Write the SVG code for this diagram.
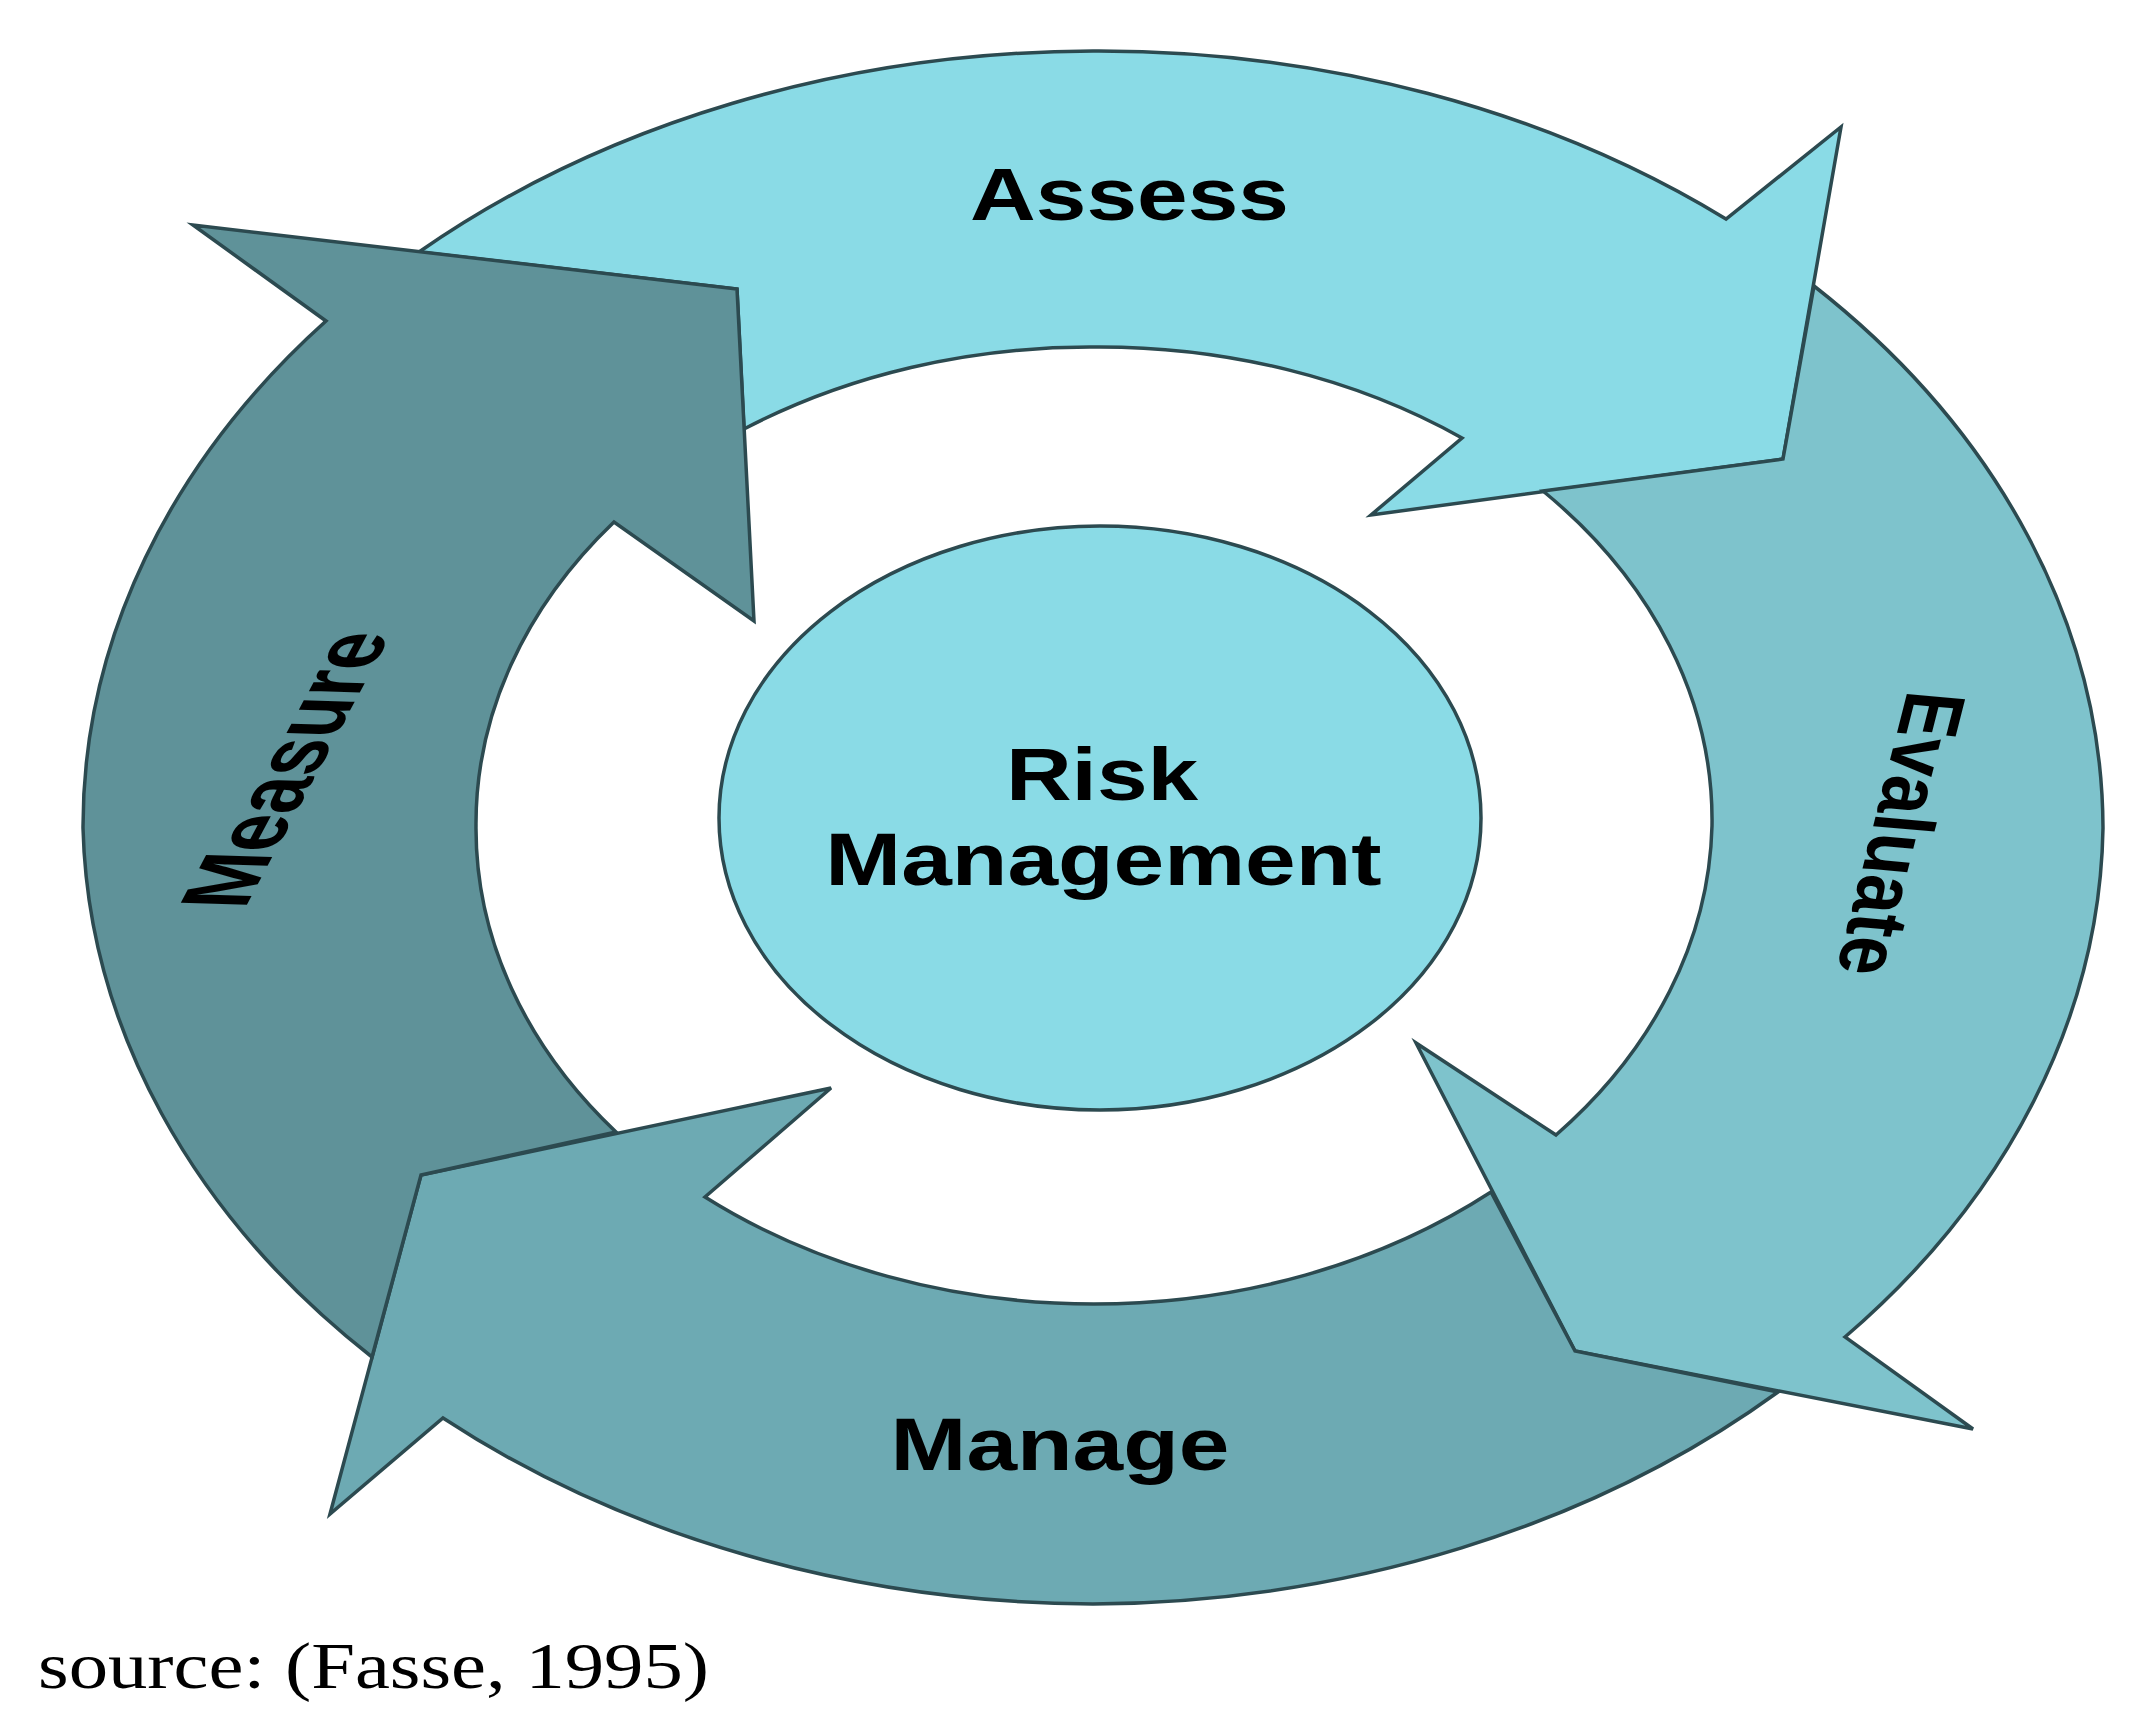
<svg xmlns="http://www.w3.org/2000/svg" width="2155" height="1730" viewBox="0 0 2155 1730">
<style>
.arr{stroke:#2c4a50;stroke-width:3.5;stroke-linejoin:miter}
.lbl{font-family:"Liberation Sans",Arial,sans-serif;font-weight:bold;font-size:74px;fill:#000;text-anchor:middle}
.src{font-family:"Liberation Serif","Times New Roman",serif;font-size:65px;fill:#000}
</style>
<rect width="2155" height="1730" fill="#ffffff"/>
<g id="assess">
<path class="arr" fill="#8adbe6" d="M 419,252 A 1010 777 0 0 1 1093,51 A 1010 777 0 0 1 1726,219 L 1841,127 L 1783,459 L 1371,515 L 1462,438 A 618 479 0 0 0 1094,347 A 618 479 0 0 0 744,429 L 737,289 Z"/>
<text class="lbl" transform="translate(1129.5,220) scale(1.23,1)">Assess</text>
</g>
<g id="evaluate">
<path class="arr" fill="#7ec3cc" d="M 1814,286 A 1010 777 0 0 1 2103,828 A 1010 777 0 0 1 1845,1337 L 1973,1429 L 1575,1351 L 1416,1043 L 1556,1135 A 618 479 0 0 0 1712,826 A 618 479 0 0 0 1543,491 L 1783,459 Z"/>
<text class="lbl" transform="matrix(-0.237,0.930,-1.145,-0.100,1872,831)">Evaluate</text>
</g>
<g id="manage">
<path class="arr" fill="#6daab3" d="M 1778,1392 A 1010 777 0 0 1 1093,1604 A 1010 777 0 0 1 443,1418 L 330,1514 L 421,1175 L 831,1088 L 705,1197 A 618 479 0 0 0 1094,1304 A 618 479 0 0 0 1491,1192 L 1575,1351 Z"/>
<text class="lbl" transform="translate(1060,1470) scale(1.23,1)">Manage</text>
</g>
<g id="measure">
<path class="arr" fill="#5f9299" d="M 372,1357 A 1010 777 0 0 1 83,828 A 1010 777 0 0 1 326,321 L 193,225 L 737,289 L 754,621 L 614,522 A 618 479 0 0 0 476,826 A 618 479 0 0 0 616,1132 L 421,1175 Z"/>
<text class="lbl" transform="matrix(0.489,-0.921,1.299,0.039,318,771)">Measure</text>
</g>
<g id="risk-management">
<ellipse class="arr" fill="#8adbe6" cx="1100" cy="818" rx="381" ry="292"/>
<text class="lbl" transform="translate(1102,800) scale(1.23,1)">Risk</text>
<text class="lbl" transform="translate(1103.5,885) scale(1.23,1)">Management</text>
</g>
<g id="connectors"></g>
<g id="source">
<text class="src" x="38" y="1688" textLength="671" lengthAdjust="spacingAndGlyphs">source: (Fasse, 1995)</text>
</g>
</svg>
